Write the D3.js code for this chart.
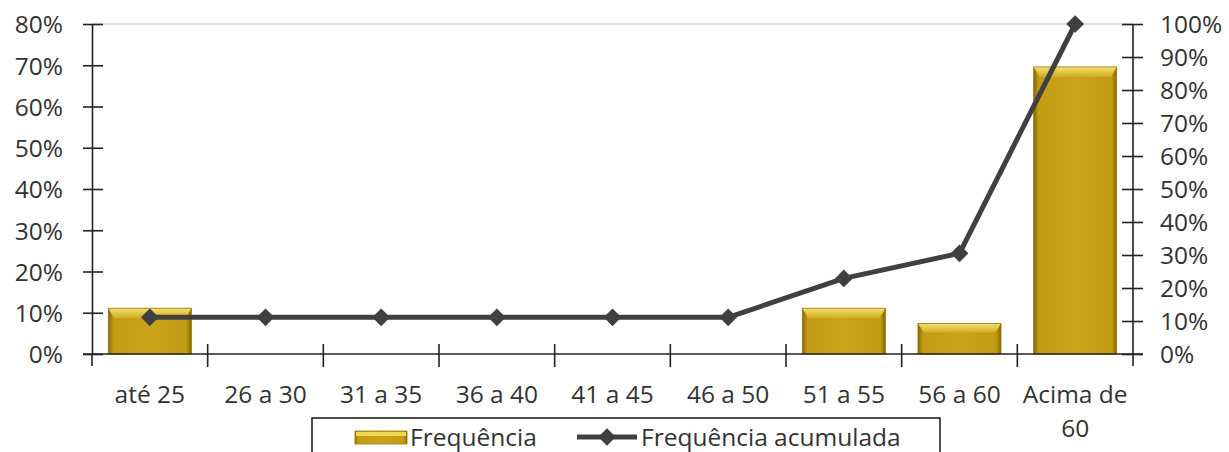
<!DOCTYPE html>
<html><head><meta charset="utf-8">
<script src="https://cdn.jsdelivr.net/npm/d3@7"></script>
<style>body{margin:0;background:#fff}text{font-family:"Open Sans",sans-serif;fill:#333}</style>
</head><body><svg id="c" width="1229" height="452"></svg>
<script>
const categories = ["até 25","26 a 30","31 a 35","36 a 40","41 a 45","46 a 50","51 a 55","56 a 60","Acima de 60"];
const frequencia = [11.1,0,0,0,0,0,11.1,7.4,69.6];
const acumulada = [11.1,11.1,11.1,11.1,11.1,11.1,22.9,30.5,100];
const leftTicks = [0,10,20,30,40,50,60,70,80];
const rightTicks = [0,10,20,30,40,50,60,70,80,90,100];
const seriesNames = ["Frequência","Frequência acumulada"];

const svg = d3.select("#c");
const L=92, R=1133, T=24, B=354;
const x = d3.scaleBand().domain(categories).range([L,R]).paddingInner(0.282).paddingOuter(0.141);
const xb = d3.scaleBand().domain(categories).range([L,R]);
const yL = d3.scaleLinear().domain([0,80]).range([B,T]);
const yR = d3.scaleLinear().domain([0,100]).range([B,T]);
const fs = 24.5;

const defs = svg.append("defs");
const gh = defs.append("linearGradient").attr("id","gh").attr("x1",0).attr("x2",1).attr("y1",0).attr("y2",0);
[[0,"#866604"],[0.06,"#c29c14"],[0.5,"#c9a31a"],[0.94,"#c29c14"],[1,"#866604"]].forEach(s=>gh.append("stop").attr("offset",s[0]).attr("stop-color",s[1]));
const gv = defs.append("linearGradient").attr("id","gv").attr("x1",0).attr("x2",0).attr("y1",0).attr("y2",1);
[[0,"#f4e070"],[1,"#d0ac22"]].forEach(s=>gv.append("stop").attr("offset",s[0]).attr("stop-color",s[1]));

svg.append("line").attr("x1",L).attr("x2",R).attr("y1",T).attr("y2",T).attr("stroke","#e0e0e0").attr("stroke-width",2.5);

const bars = svg.append("g");
categories.forEach((c,i)=>{
  const v = frequencia[i]; if(!v) return;
  const x0 = x(c), w = x.bandwidth(), y0 = yL(v), h = B - y0;
  bars.append("rect").attr("x",x0).attr("y",y0).attr("width",w).attr("height",h).attr("fill","url(#gh)");
  const bh = Math.min(10,h*0.3);
  bars.append("path").attr("d",`M${x0},${y0}L${x0+w},${y0}L${x0+w-6},${y0+bh}L${x0+6},${y0+bh}Z`).attr("fill","url(#gv)");
  bars.append("rect").attr("x",x0).attr("y",y0).attr("width",w).attr("height",h).attr("fill","none").attr("stroke","#9a7808").attr("stroke-width",0.8);
});

const axL = d3.axisLeft(yL).tickValues(leftTicks).tickFormat(d=>d+"%").tickSize(0).tickPadding(29);
const gL = svg.append("g").attr("transform",`translate(${L},0)`).call(axL);
gL.select(".domain").attr("stroke","#222").attr("stroke-width",1.6);
gL.selectAll(".tick").append("line").attr("x1",-9).attr("x2",11).attr("stroke","#222").attr("stroke-width",1.6);
gL.selectAll("text").style("font-size",fs+"px").style("fill","#333").attr("dy","0.36em");

const axR = d3.axisRight(yR).tickValues(rightTicks).tickFormat(d=>d+"%").tickSize(0).tickPadding(27);
const gR = svg.append("g").attr("transform",`translate(${R},0)`).call(axR);
gR.select(".domain").attr("stroke","#222").attr("stroke-width",1.6).attr("d",`M0,${T}V${B+12}`);
gR.selectAll(".tick").append("line").attr("x1",-11).attr("x2",10).attr("stroke","#222").attr("stroke-width",1.6);
gR.selectAll("text").style("font-size",fs+"px").style("fill","#333").attr("dy","0.36em");

svg.append("line").attr("x1",L-9).attr("x2",R+10).attr("y1",B).attr("y2",B).attr("stroke","#222").attr("stroke-width",1.6);
const gX = svg.append("g");
categories.slice(1).forEach(c=>{
  gX.append("line").attr("x1",xb(c)).attr("x2",xb(c)).attr("y1",B-10).attr("y2",B+13).attr("stroke","#222").attr("stroke-width",1.6);
});
svg.append("line").attr("x1",L).attr("x2",L).attr("y1",B).attr("y2",B+12).attr("stroke","#222").attr("stroke-width",1.6);
categories.forEach(c=>{
  const cx = xb(c)+xb.bandwidth()/2;
  const lines = c==="Acima de 60" ? ["Acima de","60"] : [c];
  lines.forEach((t,j)=>{
    svg.append("text").attr("x",cx).attr("y",403+j*34).attr("text-anchor","middle").style("font-size",fs+"px").text(t);
  });
});

const cx = c=>xb(c)+xb.bandwidth()/2;
const line = d3.line().x((d,i)=>cx(categories[i])).y(d=>yR(d));
svg.append("path").datum(acumulada).attr("d",line).attr("fill","none").attr("stroke","#404040").attr("stroke-width",5).attr("stroke-linejoin","round");
const diamond = d3.symbol().type(d3.symbolDiamond2).size(200);
svg.append("g").selectAll("path").data(acumulada).join("path")
  .attr("transform",(d,i)=>`translate(${cx(categories[i])},${yR(d)})`)
  .attr("d",diamond).attr("fill","#404040");

const lg = svg.append("g");
lg.append("rect").attr("x",312).attr("y",418).attr("width",628).attr("height",50).attr("fill","#fff").attr("stroke","#222").attr("stroke-width",1.6);
lg.append("rect").attr("x",355).attr("y",431).attr("width",52).attr("height",13).attr("fill","url(#gh)").attr("stroke","#9a7808").attr("stroke-width",0.8);
lg.append("rect").attr("x",356).attr("y",432).attr("width",50).attr("height",4).attr("fill","#f0d850");
lg.append("text").attr("x",410).attr("y",446).style("font-size",fs+"px").text(seriesNames[0]);
lg.append("line").attr("x1",577).attr("x2",637).attr("y1",437).attr("y2",437).attr("stroke","#404040").attr("stroke-width",5);
lg.append("path").attr("transform","translate(607,437)").attr("d",diamond).attr("fill","#404040");
lg.append("text").attr("x",641).attr("y",446).style("font-size",fs+"px").text(seriesNames[1]);
</script></body></html>
